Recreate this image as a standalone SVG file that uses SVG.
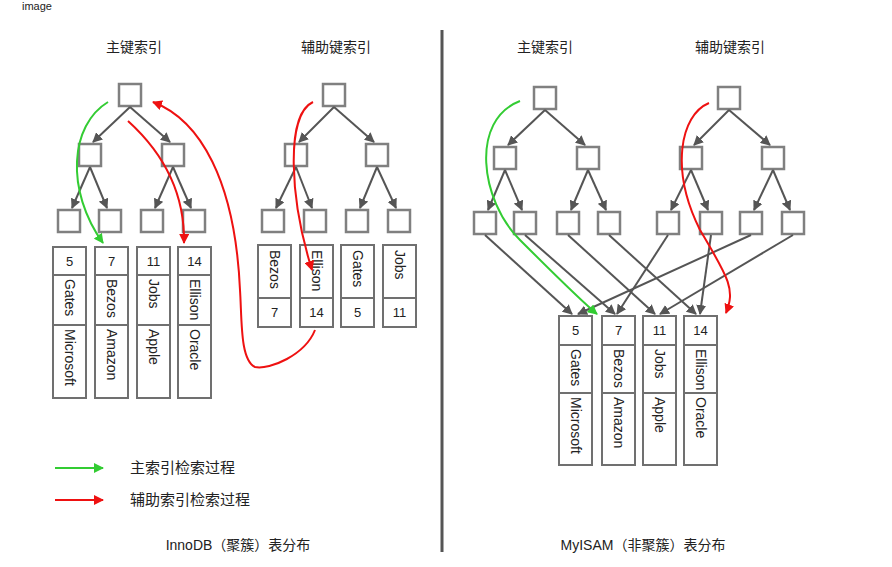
<svg xmlns="http://www.w3.org/2000/svg" width="892" height="567" viewBox="0 0 892 567">
<defs>
<marker id="ag" viewBox="0 0 10 10" refX="9" refY="5" markerWidth="5" markerHeight="5" orient="auto"><path d="M0,0L10,5L0,10z" fill="#555"/></marker>
<marker id="agr" viewBox="0 0 10 10" refX="9" refY="5" markerWidth="5" markerHeight="5" orient="auto"><path d="M0,0L10,5L0,10z" fill="#3c3"/></marker>
<marker id="ard" viewBox="0 0 10 10" refX="9" refY="5" markerWidth="5" markerHeight="5" orient="auto"><path d="M0,0L10,5L0,10z" fill="#e11"/></marker>
</defs>
<style>
.b{fill:#fff;stroke:#808080;stroke-width:2.5}
.c{fill:#fff;stroke:#707070;stroke-width:2}
.e line{stroke:#555;stroke-width:2;marker-end:url(#ag)}
.g{stroke:#3c3;stroke-width:2;fill:none;marker-end:url(#agr)}
.r{stroke:#e11;stroke-width:2;fill:none;marker-end:url(#ard)}
text{font-family:"Liberation Sans","Noto Sans CJK SC",sans-serif;fill:#222}
.n{font-size:13px;text-anchor:middle}
.v{font-size:14px;dominant-baseline:central}
.t{font-size:14px;text-anchor:middle}
</style>
<rect width="892" height="567" fill="#fff"/>
<text x="22" y="10" font-size="11" fill="#888">image</text>
<line x1="442" y1="30" x2="442" y2="552" stroke="#555" stroke-width="3"/>
<g id="titles">
<text class="t" x="134" y="52">主键索引</text>
<text class="t" x="336" y="52">辅助键索引</text>
<text class="t" x="545" y="52">主键索引</text>
<text class="t" x="730" y="52">辅助键索引</text>
</g>
<g id="inno-primary-tree">
<rect class="b" x="119" y="84" width="22" height="22"/>
<rect class="b" x="79" y="144" width="22" height="22"/><rect class="b" x="162" y="144" width="22" height="22"/>
<rect class="b" x="58" y="210" width="22" height="22"/><rect class="b" x="99" y="210" width="22" height="22"/><rect class="b" x="141" y="210" width="22" height="22"/><rect class="b" x="183" y="210" width="22" height="22"/>
</g>
<g id="inno-secondary-tree">
<rect class="b" x="323" y="84" width="22" height="22"/>
<rect class="b" x="285" y="144" width="22" height="22"/><rect class="b" x="366" y="144" width="22" height="22"/>
<rect class="b" x="262" y="210" width="22" height="22"/><rect class="b" x="304" y="210" width="22" height="22"/><rect class="b" x="346" y="210" width="22" height="22"/><rect class="b" x="388" y="210" width="22" height="22"/>
</g>
<g id="inno-primary-data">
<rect class="c" x="53" y="247" width="33" height="28"/><rect class="c" x="53" y="275" width="33" height="50"/><rect class="c" x="53" y="325" width="33" height="73"/>
<rect class="c" x="95" y="247" width="33" height="28"/><rect class="c" x="95" y="275" width="33" height="50"/><rect class="c" x="95" y="325" width="33" height="73"/>
<rect class="c" x="137" y="247" width="33" height="28"/><rect class="c" x="137" y="275" width="33" height="50"/><rect class="c" x="137" y="325" width="33" height="73"/>
<rect class="c" x="178" y="247" width="33" height="28"/><rect class="c" x="178" y="275" width="33" height="50"/><rect class="c" x="178" y="325" width="33" height="73"/>
<text class="n" x="69.5" y="266">5</text><text class="n" x="111.5" y="266">7</text><text class="n" x="153.5" y="266">11</text><text class="n" x="194.5" y="266">14</text>
<text class="v" transform="translate(69.5,279) rotate(90)">Gates</text><text class="v" transform="translate(69.5,329) rotate(90)">Microsoft</text>
<text class="v" transform="translate(111.5,279) rotate(90)">Bezos</text><text class="v" transform="translate(111.5,329) rotate(90)">Amazon</text>
<text class="v" transform="translate(153.5,279) rotate(90)">Jobs</text><text class="v" transform="translate(153.5,329) rotate(90)">Apple</text>
<text class="v" transform="translate(194.5,279) rotate(90)">Ellison</text><text class="v" transform="translate(194.5,329) rotate(90)">Oracle</text>
</g>
<g id="inno-secondary-data">
<rect class="c" x="258" y="245" width="33" height="53"/><rect class="c" x="258" y="298" width="33" height="29"/>
<rect class="c" x="300" y="245" width="33" height="53"/><rect class="c" x="300" y="298" width="33" height="29"/>
<rect class="c" x="341" y="245" width="33" height="53"/><rect class="c" x="341" y="298" width="33" height="29"/>
<rect class="c" x="383" y="245" width="33" height="53"/><rect class="c" x="383" y="298" width="33" height="29"/>
<text class="v" transform="translate(274.5,250) rotate(90)">Bezos</text><text class="v" transform="translate(316.5,250) rotate(90)">Ellison</text>
<text class="v" transform="translate(357.5,250) rotate(90)">Gates</text><text class="v" transform="translate(399.5,250) rotate(90)">Jobs</text>
<text class="n" x="274.5" y="317">7</text><text class="n" x="316.5" y="317">14</text><text class="n" x="357.5" y="317">5</text><text class="n" x="399.5" y="317">11</text>
</g>
<g id="myisam-primary-tree">
<rect class="b" x="534" y="87" width="22" height="22"/>
<rect class="b" x="494" y="147" width="22" height="22"/><rect class="b" x="577" y="147" width="22" height="22"/>
<rect class="b" x="474" y="212" width="22" height="22"/><rect class="b" x="514" y="212" width="22" height="22"/><rect class="b" x="557" y="212" width="22" height="22"/><rect class="b" x="598" y="212" width="22" height="22"/>
</g>
<g id="myisam-secondary-tree">
<rect class="b" x="718" y="87" width="22" height="22"/>
<rect class="b" x="680" y="147" width="22" height="22"/><rect class="b" x="762" y="147" width="22" height="22"/>
<rect class="b" x="657" y="212" width="22" height="22"/><rect class="b" x="700" y="212" width="22" height="22"/><rect class="b" x="740" y="212" width="22" height="22"/><rect class="b" x="782" y="212" width="22" height="22"/>
</g>
<g id="myisam-data">
<rect class="c" x="559" y="316" width="33" height="29"/><rect class="c" x="559" y="345" width="33" height="48"/><rect class="c" x="559" y="393" width="33" height="72"/>
<rect class="c" x="602" y="316" width="33" height="29"/><rect class="c" x="602" y="345" width="33" height="48"/><rect class="c" x="602" y="393" width="33" height="72"/>
<rect class="c" x="643" y="316" width="33" height="29"/><rect class="c" x="643" y="345" width="33" height="48"/><rect class="c" x="643" y="393" width="33" height="72"/>
<rect class="c" x="684" y="316" width="33" height="29"/><rect class="c" x="684" y="345" width="33" height="48"/><rect class="c" x="684" y="393" width="33" height="72"/>
<text class="n" x="575.5" y="335">5</text><text class="n" x="618.5" y="335">7</text><text class="n" x="659.5" y="335">11</text><text class="n" x="700.5" y="335">14</text>
<text class="v" transform="translate(575.5,349) rotate(90)">Gates</text><text class="v" transform="translate(575.5,397) rotate(90)">Microsoft</text>
<text class="v" transform="translate(618.5,349) rotate(90)">Bezos</text><text class="v" transform="translate(618.5,397) rotate(90)">Amazon</text>
<text class="v" transform="translate(659.5,349) rotate(90)">Jobs</text><text class="v" transform="translate(659.5,397) rotate(90)">Apple</text>
<text class="v" transform="translate(700.5,349) rotate(90)">Ellison</text><text class="v" transform="translate(700.5,397) rotate(90)">Oracle</text>
</g>
<g id="connectors">
<g class="e">
<line x1="130" y1="107" x2="93" y2="142"/><line x1="130" y1="107" x2="170" y2="142"/><line x1="90" y1="167" x2="72" y2="208"/><line x1="90" y1="167" x2="107" y2="208"/><line x1="173" y1="167" x2="155" y2="208"/><line x1="173" y1="167" x2="191" y2="208"/>
<line x1="334" y1="107" x2="299" y2="142"/><line x1="334" y1="107" x2="374" y2="142"/><line x1="296" y1="167" x2="276" y2="208"/><line x1="296" y1="167" x2="312" y2="208"/><line x1="377" y1="167" x2="360" y2="208"/><line x1="377" y1="167" x2="396" y2="208"/>
<line x1="545" y1="110" x2="508" y2="145"/><line x1="545" y1="110" x2="585" y2="145"/><line x1="505" y1="170" x2="488" y2="210"/><line x1="505" y1="170" x2="522" y2="210"/><line x1="588" y1="170" x2="571" y2="210"/><line x1="588" y1="170" x2="606" y2="210"/>
<line x1="729" y1="110" x2="694" y2="145"/><line x1="729" y1="110" x2="770" y2="145"/><line x1="691" y1="170" x2="671" y2="210"/><line x1="691" y1="170" x2="708" y2="210"/><line x1="773" y1="170" x2="754" y2="210"/><line x1="773" y1="170" x2="790" y2="210"/>
<line x1="485" y1="235" x2="572" y2="314"/><line x1="525" y1="235" x2="615" y2="314"/><line x1="568" y1="235" x2="655" y2="314"/><line x1="609" y1="235" x2="696" y2="314"/>
<line x1="668" y1="235" x2="617" y2="314"/><line x1="711" y1="235" x2="700" y2="314"/><line x1="751" y1="235" x2="578" y2="314"/><line x1="793" y1="235" x2="660" y2="314"/>
</g>
<path class="g" d="M108,102C70,125 65,190 103,243"/>
<path class="r" d="M128,121C160,150 185,190 184,243"/>
<path class="r" d="M313,102C285,115 290,200 312,270"/>
<path class="r" d="M315,330C305,355 270,370 255,367C240,360 242,320 240,290C235,180 200,120 153,102"/>
<path class="g" d="M520,101C470,120 480,200 520,240C560,280 580,300 597,314"/>
<path class="r" d="M709,103C680,115 670,170 700,230C730,280 735,290 726,313"/>
</g>
<g id="legend">
<line class="g" x1="55" y1="468" x2="103" y2="468"/>
<text x="130" y="473" font-size="15">主索引检索过程</text>
<line class="r" x1="55" y1="500" x2="103" y2="500"/>
<text x="130" y="505" font-size="15">辅助索引检索过程</text>
</g>
<g id="captions">
<text class="t" x="238" y="550" font-size="15">InnoDB（聚簇）表分布</text>
<text class="t" x="643" y="550" font-size="15">MyISAM（非聚簇）表分布</text>
</g>
</svg>
